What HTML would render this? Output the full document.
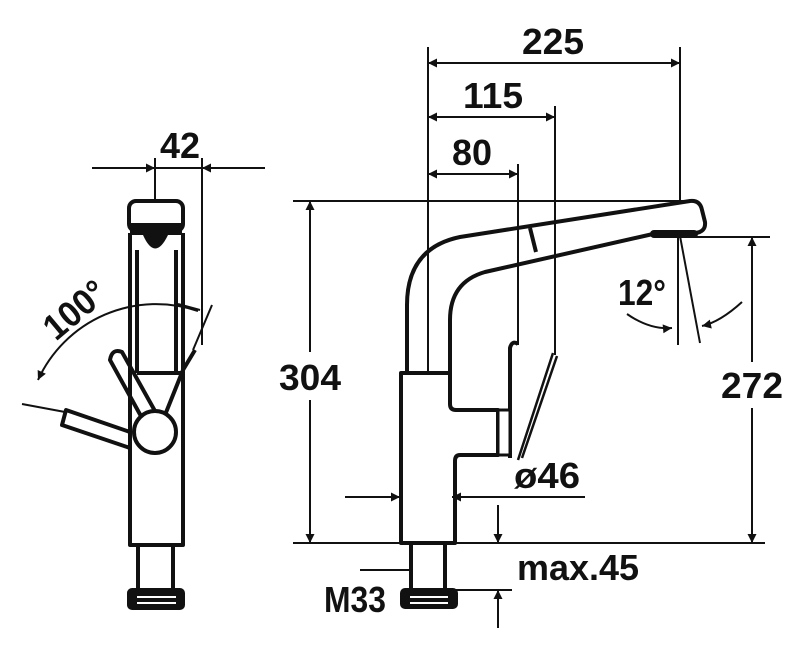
<!DOCTYPE html>
<html><head><style>html,body{margin:0;padding:0;background:#fff}svg{display:block}</style></head>
<body>
<svg width="800" height="648" viewBox="0 0 800 648" xmlns="http://www.w3.org/2000/svg">
<defs>
<marker id="a" viewBox="0 0 10 10" refX="10" refY="5" markerWidth="18" markerHeight="9" markerUnits="userSpaceOnUse" orient="auto-start-reverse"><path d="M0,0 L10,5 L0,10 Z" fill="#111"/></marker>
</defs>
<g fill="none" stroke="#111" stroke-width="2">
<line x1="293" y1="201" x2="690" y2="201"/>
<line x1="293" y1="543" x2="765" y2="543"/>
<line x1="428" y1="47" x2="428" y2="373"/>
<line x1="518" y1="164" x2="518" y2="345"/>
<line x1="555" y1="106" x2="555" y2="355"/>
<line x1="680" y1="47" x2="680" y2="201"/>
<line x1="428" y1="63" x2="680" y2="63" marker-start="url(#a)" marker-end="url(#a)"/>
<line x1="428" y1="117" x2="555" y2="117" marker-start="url(#a)" marker-end="url(#a)"/>
<line x1="428" y1="174" x2="518" y2="174" marker-start="url(#a)" marker-end="url(#a)"/>
<line x1="310" y1="201" x2="310" y2="352" marker-start="url(#a)"/>
<line x1="310" y1="400" x2="310" y2="543" marker-end="url(#a)"/>
<line x1="690" y1="237" x2="770" y2="237"/>
<line x1="752" y1="237" x2="752" y2="362" marker-start="url(#a)"/>
<line x1="752" y1="408" x2="752" y2="543" marker-end="url(#a)"/>
<line x1="678" y1="236" x2="678" y2="345"/>
<line x1="680" y1="236" x2="700" y2="343"/>
<path d="M627,314 Q650,330 672,328" marker-end="url(#a)"/>
<path d="M742,302 Q720,322 702,326" marker-end="url(#a)"/>
<line x1="345" y1="497" x2="400" y2="497" marker-end="url(#a)"/>
<line x1="585" y1="497" x2="452" y2="497" marker-end="url(#a)"/>
<line x1="498" y1="505" x2="498" y2="543" marker-end="url(#a)"/>
<line x1="498" y1="628" x2="498" y2="590" marker-end="url(#a)"/>
<line x1="405" y1="590" x2="512" y2="590"/>
<line x1="360" y1="570" x2="413" y2="570"/>
</g>
<g fill="none" stroke="#111" stroke-width="4" stroke-linejoin="round">
<path d="M401,373 H450 V404 Q450,410 456,410 H498 V455 H460 Q455,455 455,461 V543 H401 Z"/>
<path d="M407,373 V305 Q407,248 460,237 L690,201 Q700,200 702,210 L705,222 Q706,232 695,233 L653,234 L485,272 Q450,282 450,320 V373"/>
<path d="M530,228 L536,252"/>
<path d="M510,458 V348 Q512,340 518,344"/>
</g>
<path d="M553,353 L518,460 M557,356 L522,458" fill="none" stroke="#111" stroke-width="2.5"/>
<path d="M411,543 V592 M445,543 V592" stroke="#111" stroke-width="4"/>
<rect x="650" y="230" width="48" height="8" rx="4" fill="#111"/>
<rect x="498" y="410" width="12" height="45" fill="#fff" stroke="#111" stroke-width="3"/>
<rect x="400" y="588" width="58" height="21" rx="5" fill="#111"/>
<line x1="410" y1="597" x2="448" y2="597" stroke="#fff" stroke-width="2"/>
<line x1="410" y1="603" x2="448" y2="603" stroke="#fff" stroke-width="2"/>

<g fill="none" stroke="#111" stroke-width="2">
<line x1="92" y1="168" x2="155" y2="168" marker-end="url(#a)"/>
<line x1="265" y1="168" x2="202" y2="168" marker-end="url(#a)"/>
<line x1="155" y1="158" x2="155" y2="200"/>
<line x1="155" y1="168" x2="202" y2="168"/>
<line x1="202" y1="158" x2="202" y2="345"/>
<line x1="212" y1="305" x2="193" y2="350"/>
<path d="M198,311 A130,130 0 0 0 38,380" marker-end="url(#a)"/>
<line x1="22" y1="404" x2="65" y2="412"/>
<line x1="178" y1="304" x2="200" y2="310"/>
</g>
<g fill="none" stroke="#111" stroke-width="4" stroke-linejoin="round">
<path d="M130,233 V545 H183 V233"/>
<rect x="129" y="201" width="54" height="30" rx="7"/>
<line x1="137" y1="250" x2="137" y2="373"/>
<line x1="176" y1="250" x2="176" y2="373"/>
<line x1="137" y1="373" x2="183" y2="373"/>
<path d="M138,545 V590 M173,545 V590"/>
<path d="M130,432 L66,410 L62,425 L130,448"/>
<path d="M142,418 L110,360 Q112,348 122,352 L160,420"/>
<path d="M165,415 L183,370 L195,350"/>
<circle cx="155" cy="432" r="21" fill="#fff"/>
</g>
<rect x="130" y="223" width="52" height="12" fill="#111"/>
<path d="M143,235 Q155,262 168,235 Z" fill="#111"/>
<rect x="127" y="588" width="58" height="22" rx="5" fill="#111"/>
<line x1="137" y1="597" x2="176" y2="597" stroke="#fff" stroke-width="2"/>
<line x1="137" y1="603" x2="176" y2="603" stroke="#fff" stroke-width="2"/>

<g font-family="Liberation Sans, sans-serif" font-weight="bold" font-size="36" fill="#111" text-anchor="middle">
<text x="553" y="54" textLength="62" lengthAdjust="spacingAndGlyphs">225</text>
<text x="493" y="108" textLength="60" lengthAdjust="spacingAndGlyphs">115</text>
<text x="472" y="165" textLength="40" lengthAdjust="spacingAndGlyphs">80</text>
<text x="180" y="158" textLength="40" lengthAdjust="spacingAndGlyphs">42</text>
<text x="310" y="390" textLength="62" lengthAdjust="spacingAndGlyphs">304</text>
<text x="752" y="398" textLength="62" lengthAdjust="spacingAndGlyphs">272</text>
<text x="642" y="305" textLength="48" lengthAdjust="spacingAndGlyphs">12°</text>
<text x="547" y="488" textLength="66" lengthAdjust="spacingAndGlyphs">ø46</text>
<text x="578" y="580" textLength="122" lengthAdjust="spacingAndGlyphs">max.45</text>
<text x="355" y="612" textLength="62" lengthAdjust="spacingAndGlyphs">M33</text>
<text x="75" y="322" transform="rotate(-40 75 310)" textLength="70" lengthAdjust="spacingAndGlyphs">100°</text>
</g>
</svg>
</body></html>
